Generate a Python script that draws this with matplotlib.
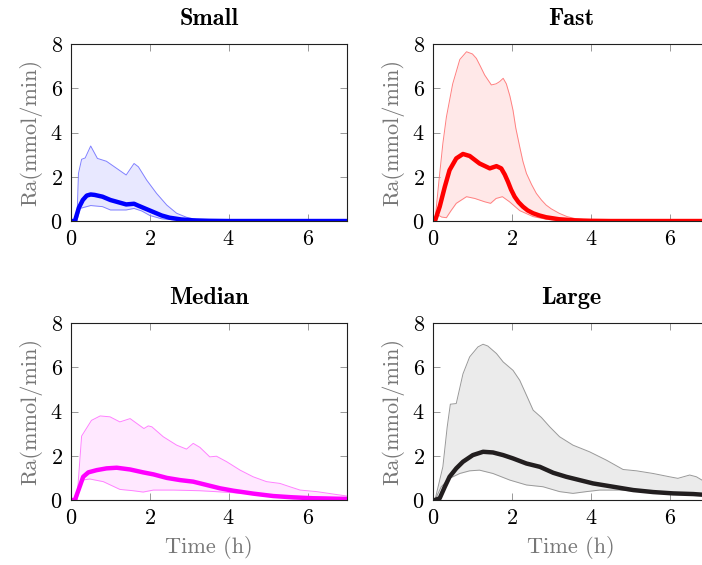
import matplotlib
matplotlib.use("Agg")
import matplotlib.pyplot as plt
import numpy as np

plt.rcParams["font.family"] = "serif"
plt.rcParams["font.serif"] = ["cmr10"]
plt.rcParams["mathtext.fontset"] = "cm"
plt.rcParams["axes.formatter.use_mathtext"] = True

# Small
small_t_up = [0.0, 0.15, 0.19, 0.27, 0.36, 0.5, 0.67, 0.9, 1.4, 1.6, 1.71, 1.92, 2.17, 2.43, 2.68, 2.93, 3.2, 3.5, 4.0, 7.0]
small_up = [0.0, 0.0, 2.15, 2.79, 2.85, 3.39, 2.83, 2.7, 2.08, 2.6, 2.45, 1.85, 1.25, 0.72, 0.35, 0.17, 0.06, 0.02, 0.0, 0.0]
small_t_lo = [0.0, 0.15, 0.23, 0.5, 0.8, 1.0, 1.4, 1.6, 1.8, 2.0, 2.3, 2.8, 3.2, 7.0]
small_lo = [0.0, 0.0, 0.57, 0.7, 0.65, 0.5, 0.5, 0.57, 0.45, 0.25, 0.1, 0.02, 0.0, 0.0]
small_t_mean = [0.0, 0.1, 0.2, 0.3, 0.4, 0.5, 0.6, 0.8, 1.0, 1.2, 1.4, 1.6, 1.7, 1.9, 2.1, 2.3, 2.5, 2.8, 3.1, 3.5, 4.0, 7.0]
small_mean = [0.0, 0.0, 0.6, 0.95, 1.15, 1.2, 1.18, 1.1, 0.95, 0.85, 0.75, 0.78, 0.7, 0.55, 0.4, 0.25, 0.15, 0.07, 0.03, 0.01, 0.0, 0.0]

# Fast
fast_t_up = [0.0, 0.05, 0.15, 0.25, 0.34, 0.5, 0.68, 0.85, 1.0, 1.1, 1.2, 1.31, 1.48, 1.6, 1.69, 1.78, 1.86, 1.95, 2.03, 2.1, 2.2, 2.28, 2.37, 2.5, 2.62, 2.75, 2.87, 3.0, 3.2, 3.4, 3.63, 4.05, 4.5, 7.0]
fast_up = [0.0, 0.0, 1.8, 3.5, 4.7, 6.2, 7.3, 7.65, 7.55, 7.35, 7.0, 6.6, 6.15, 6.2, 6.3, 6.45, 6.2, 5.65, 5.0, 4.2, 3.35, 2.7, 2.15, 1.65, 1.25, 0.95, 0.72, 0.55, 0.35, 0.2, 0.1, 0.03, 0.0, 0.0]
fast_t_lo = [0.0, 0.05, 0.13, 0.22, 0.34, 0.45, 0.59, 0.85, 1.06, 1.31, 1.46, 1.6, 1.76, 1.94, 2.2, 2.54, 2.87, 3.2, 3.6, 7.0]
fast_lo = [0.0, 0.0, 0.27, 0.18, 0.15, 0.45, 0.8, 1.1, 1.02, 0.87, 0.8, 1.02, 1.1, 0.87, 0.47, 0.2, 0.08, 0.02, 0.0, 0.0]
fast_t_mean = [0.0, 0.05, 0.17, 0.3, 0.42, 0.59, 0.76, 0.93, 1.18, 1.44, 1.61, 1.73, 1.82, 1.9, 1.98, 2.07, 2.17, 2.28, 2.4, 2.54, 2.7, 2.87, 3.2, 3.6, 4.0, 4.5, 7.0]
fast_mean = [0.0, 0.0, 0.65, 1.55, 2.3, 2.83, 3.03, 2.94, 2.6, 2.38, 2.48, 2.38, 2.1, 1.78, 1.42, 1.1, 0.85, 0.65, 0.48, 0.35, 0.25, 0.17, 0.08, 0.03, 0.01, 0.0, 0.0]

# Median
median_t_up = [0.0, 0.15, 0.27, 0.52, 0.74, 0.99, 1.24, 1.5, 1.67, 1.85, 1.96, 2.05, 2.34, 2.68, 2.93, 3.1, 3.27, 3.52, 3.69, 3.95, 4.29, 4.62, 4.96, 5.3, 5.55, 5.81, 6.23, 6.65, 7.0]
median_up = [0.0, 0.0, 2.89, 3.6, 3.8, 3.76, 3.53, 3.68, 3.46, 3.23, 3.35, 3.31, 2.86, 2.48, 2.3, 2.56, 2.38, 1.95, 1.98, 1.73, 1.35, 1.05, 0.83, 0.75, 0.6, 0.45, 0.38, 0.27, 0.18]
median_t_lo = [0.0, 0.15, 0.27, 0.48, 0.82, 1.24, 1.58, 1.83, 2.09, 2.6, 3.27, 3.95, 4.62, 5.3, 5.98, 7.0]
median_lo = [0.0, 0.0, 0.9, 0.95, 0.83, 0.48, 0.42, 0.36, 0.45, 0.45, 0.42, 0.35, 0.27, 0.21, 0.15, 0.1]
median_t_mean = [0.0, 0.1, 0.19, 0.31, 0.44, 0.65, 0.9, 1.16, 1.5, 1.83, 2.09, 2.43, 2.77, 3.1, 3.44, 3.78, 4.12, 4.62, 5.13, 5.64, 6.15, 7.0]
median_mean = [0.0, 0.0, 0.45, 1.05, 1.25, 1.35, 1.43, 1.46, 1.38, 1.25, 1.16, 1.0, 0.9, 0.83, 0.68, 0.53, 0.42, 0.29, 0.18, 0.12, 0.08, 0.05]

# Large
large_t_up = [0.0, 0.05, 0.25, 0.36, 0.44, 0.59, 0.76, 0.93, 1.14, 1.27, 1.39, 1.61, 1.78, 2.03, 2.2, 2.37, 2.54, 2.75, 2.96, 3.21, 3.55, 3.97, 4.4, 4.82, 5.16, 5.58, 6.0, 6.21, 6.51, 6.68, 6.85, 7.0]
large_up = [0.0, 0.0, 1.5, 3.3, 4.33, 4.36, 5.7, 6.47, 6.92, 7.04, 6.96, 6.62, 6.24, 5.86, 5.41, 4.74, 4.06, 3.73, 3.31, 2.86, 2.48, 2.18, 1.8, 1.38, 1.32, 1.2, 1.05, 0.98, 1.13, 1.05, 0.87, 0.8]
large_t_lo = [0.0, 0.05, 0.21, 0.42, 0.68, 0.93, 1.18, 1.52, 1.95, 2.37, 2.79, 3.21, 3.55, 3.89, 4.23, 4.73, 5.32, 5.9, 6.58, 7.0]
large_lo = [0.0, 0.0, 0.6, 0.98, 1.2, 1.32, 1.35, 1.2, 0.9, 0.68, 0.6, 0.38, 0.3, 0.38, 0.45, 0.45, 0.38, 0.3, 0.26, 0.23]
large_t_mean = [0.0, 0.05, 0.17, 0.3, 0.42, 0.59, 0.76, 1.01, 1.27, 1.52, 1.78, 2.03, 2.37, 2.71, 3.05, 3.38, 3.72, 4.06, 4.57, 5.08, 5.58, 6.09, 6.6, 7.0]
large_mean = [0.0, 0.0, 0.08, 0.6, 1.05, 1.43, 1.73, 2.03, 2.18, 2.15, 2.03, 1.88, 1.65, 1.5, 1.23, 1.05, 0.9, 0.75, 0.6, 0.45, 0.36, 0.3, 0.27, 0.22]

panels = [
    ("Small", small_t_up, small_up, small_t_lo, small_lo, small_t_mean, small_mean, "#0000ff", "#8080ff", "#0000ff", 0.09),
    ("Fast", fast_t_up, fast_up, fast_t_lo, fast_lo, fast_t_mean, fast_mean, "#ff0000", "#ff8080", "#ff0000", 0.09),
    ("Median", median_t_up, median_up, median_t_lo, median_lo, median_t_mean, median_mean, "#ff00ff", "#ff80ff", "#ff00ff", 0.09),
    ("Large", large_t_up, large_up, large_t_lo, large_lo, large_t_mean, large_mean, "#221e1f", "#999999", "#000000", 0.08),
]

positions = [
    [0.1011, 0.6088, 0.3932, 0.3133],
    [0.6168, 0.6088, 0.3932, 0.3133],
    [0.1011, 0.1150, 0.3932, 0.3133],
    [0.6168, 0.1150, 0.3932, 0.3133],
]

fig = plt.figure(figsize=(7.02, 5.65), dpi=100)

for i, (name, tu, up, tl, lo, tm, mean, col, edge, fillc, alpha) in enumerate(panels):
    ax = fig.add_axes(positions[i])
    grid = np.union1d(tu, tl)
    up_g = np.interp(grid, tu, up)
    lo_g = np.interp(grid, tl, lo)
    ax.fill_between(grid, lo_g, up_g, color=fillc, alpha=alpha, lw=0)
    ax.plot(tu, up, color=edge, lw=0.7)
    ax.plot(tl, lo, color=edge, lw=0.7)
    ax.plot(tm, mean, color=col, lw=3.2, solid_capstyle="butt")
    ax.set_xlim(0, 7)
    ax.set_ylim(0, 8)
    ax.set_xticks([0, 2, 4, 6])
    ax.set_yticks([0, 2, 4, 6, 8])
    ax.tick_params(direction="in", top=True, right=True, length=5, width=0.6,
                   color="#888888", labelsize=16, pad=6)
    for s in ax.spines.values():
        s.set_color("#202020")
        s.set_linewidth(0.8)
    ax.set_title(name, fontfamily="cmb10", fontsize=17.5, pad=14)
    ax.set_ylabel("Ra(mmol/min)", fontsize=16, color="#777777", labelpad=6)
    if i >= 2:
        ax.set_xlabel("Time (h)", fontsize=16, color="#777777", labelpad=6)

fig.savefig("out.png", dpi=100)
